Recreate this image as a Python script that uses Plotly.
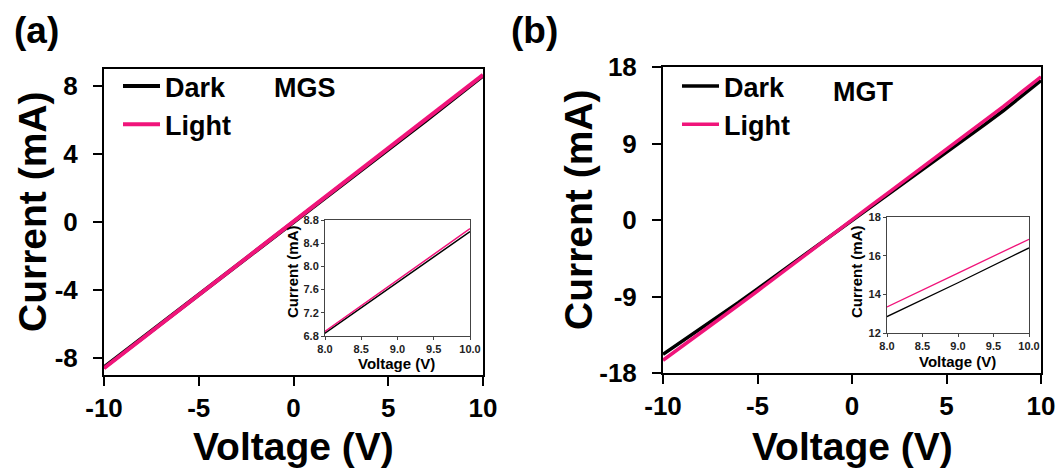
import plotly.graph_objects as go

# ---------------- data ----------------
voltage = [-10, -9, -8, -7, -6, -5, -4, -3, -2, -1, 0, 1, 2, 3, 4, 5, 6, 7, 8, 9, 10]

mgs_dark = [-8.55, -7.70, -6.85, -5.98, -5.12, -4.26, -3.40, -2.55, -1.70, -0.85, 0.0,
            0.85, 1.70, 2.55, 3.40, 4.26, 5.12, 5.98, 6.85, 7.72, 8.60]
mgs_light = [-8.60, -7.74, -6.88, -6.01, -5.15, -4.29, -3.43, -2.57, -1.72, -0.86, 0.0,
             0.86, 1.72, 2.57, 3.43, 4.29, 5.15, 6.01, 6.88, 7.76, 8.65]

mgt_dark = [-15.8, -14.3, -12.8, -11.2, -9.7, -8.1, -6.5, -4.9, -3.25, -1.6, 0.0,
            1.6, 3.2, 4.8, 6.4, 8.0, 9.6, 11.2, 12.85, 14.6, 16.4]
mgt_light = [-16.5, -14.9, -13.3, -11.65, -10.0, -8.35, -6.7, -5.0, -3.35, -1.68, 0.0,
             1.68, 3.35, 5.0, 6.7, 8.4, 10.05, 11.7, 13.35, 15.1, 16.85]

x_ticks = [-10, -5, 0, 5, 10]
mgs_y_ticks = [-8, -4, 0, 4, 8]
mgt_y_ticks = [-18, -9, 0, 9, 18]
inset_x_ticks = [8.0, 8.5, 9.0, 9.5, 10.0]
mgs_inset_y_ticks = [6.8, 7.2, 7.6, 8.0, 8.4, 8.8]
mgt_inset_y_ticks = [12, 14, 16, 18]

DARK = "#000000"
PINK = "#F0147A"
FONT = "Arial, Liberation Sans, sans-serif"

fig = go.Figure()

# ---- main traces ----
fig.add_trace(go.Scatter(x=voltage, y=mgs_dark, mode="lines", name="Dark",
                         line=dict(color=DARK, width=4), xaxis="x", yaxis="y", legend="legend"))
fig.add_trace(go.Scatter(x=voltage, y=mgs_light, mode="lines", name="Light",
                         line=dict(color=PINK, width=4), xaxis="x", yaxis="y", legend="legend"))
fig.add_trace(go.Scatter(x=voltage, y=mgt_dark, mode="lines", name="Dark",
                         line=dict(color=DARK, width=3.5), xaxis="x3", yaxis="y3", legend="legend2"))
fig.add_trace(go.Scatter(x=voltage, y=mgt_light, mode="lines", name="Light",
                         line=dict(color=PINK, width=3.5), xaxis="x3", yaxis="y3", legend="legend2"))

# ---- inset traces ----
fig.add_trace(go.Scatter(x=voltage, y=mgs_dark, mode="lines", showlegend=False,
                         line=dict(color=DARK, width=1.5), xaxis="x2", yaxis="y2"))
fig.add_trace(go.Scatter(x=voltage, y=mgs_light, mode="lines", showlegend=False,
                         line=dict(color=PINK, width=1.5), xaxis="x2", yaxis="y2"))
fig.add_trace(go.Scatter(x=voltage, y=mgt_dark, mode="lines", showlegend=False,
                         line=dict(color=DARK, width=1.3), xaxis="x4", yaxis="y4"))
fig.add_trace(go.Scatter(x=voltage, y=mgt_light, mode="lines", showlegend=False,
                         line=dict(color=PINK, width=1.3), xaxis="x4", yaxis="y4"))

W, H = 1060, 474


def px_x(v):
    return v / W


def px_y(v):
    return 1 - v / H


def labels(vals, fmt="{:g}"):
    return [fmt.format(v) for v in vals]


main_tick_font = dict(family=FONT, size=26, color="black", weight="bold")
inset_tick_font = dict(family=FONT, size=11, color="#222222", weight="bold")


def main_axis(domain, rng, ticks, anchor, standoff=0):
    return dict(domain=domain, range=rng, tickvals=ticks, ticktext=labels(ticks),
                ticks="outside", ticklen=9, ticklabelstandoff=standoff,
                tickwidth=2, tickcolor="black", showline=True, linewidth=2, linecolor="black",
                mirror=True, showgrid=False, zeroline=False, tickfont=main_tick_font,
                anchor=anchor, fixedrange=True, automargin=False)


def inset_axis(domain, rng, ticks, anchor, fmt):
    return dict(domain=domain, range=rng, tickvals=ticks, ticktext=labels(ticks, fmt),
                ticks="outside", ticklen=3,
                tickwidth=1, tickcolor="#444444", showline=True, linewidth=1, linecolor="#444444",
                mirror=True, showgrid=False, zeroline=False, tickfont=inset_tick_font,
                anchor=anchor, fixedrange=True, automargin=False)


legend_font = dict(family=FONT, size=27, weight="bold")

fig.update_layout(
    template="none",
    width=W, height=H,
    margin=dict(l=0, r=0, t=0, b=0, autoexpand=False),
    paper_bgcolor="white", plot_bgcolor="white",
    font=dict(family=FONT, color="black"),
    xaxis=main_axis([px_x(104), px_x(483)], [-10, 10], x_ticks, "y"),
    yaxis=main_axis([px_y(375), px_y(69)], [-9, 9], mgs_y_ticks, "x", 10),
    xaxis2=inset_axis([px_x(325), px_x(470)], [8, 10], inset_x_ticks, "y2", "{:.1f}"),
    yaxis2=inset_axis([px_y(336), px_y(220)], [6.8, 8.8], mgs_inset_y_ticks, "x2", "{:.1f}"),
    xaxis3=main_axis([px_x(663), px_x(1041)], [-10, 10], x_ticks, "y3"),
    yaxis3=main_axis([px_y(373), px_y(67)], [-18, 18], mgt_y_ticks, "x3", 10),
    xaxis4=inset_axis([px_x(887), px_x(1029)], [8, 10], inset_x_ticks, "y4", "{:.1f}"),
    yaxis4=inset_axis([px_y(333), px_y(217)], [12, 18], mgt_inset_y_ticks, "x4", "{:d}"),
    legend=dict(x=px_x(118), y=px_y(62), xanchor="left", yanchor="top",
                bgcolor="rgba(0,0,0,0)", font=legend_font, tracegroupgap=0, itemwidth=37),
    legend2=dict(x=px_x(677), y=px_y(62), xanchor="left", yanchor="top",
                 bgcolor="rgba(0,0,0,0)", font=legend_font, tracegroupgap=0, itemwidth=37),
)

annotations = [
    dict(text="(a)", x=px_x(36), y=px_y(30), font=dict(size=37)),
    dict(text="(b)", x=px_x(534), y=px_y(30), font=dict(size=37)),
    dict(text="MGS", x=px_x(305), y=px_y(88), font=dict(size=27)),
    dict(text="MGT", x=px_x(863), y=px_y(92), font=dict(size=27)),
    dict(text="Voltage (V)", x=px_x(293), y=px_y(446), font=dict(size=39)),
    dict(text="Voltage (V)", x=px_x(852), y=px_y(446), font=dict(size=39)),
    dict(text="Current (mA)", x=px_x(32), y=px_y(212), font=dict(size=39), textangle=-90),
    dict(text="Current (mA)", x=px_x(579), y=px_y(210), font=dict(size=39), textangle=-90),
    dict(text="Voltage (V)", x=px_x(397), y=px_y(363), font=dict(size=15)),
    dict(text="Voltage (V)", x=px_x(957), y=px_y(361), font=dict(size=15)),
    dict(text="Current (mA)", x=px_x(292), y=px_y(272), font=dict(size=15), textangle=-90),
    dict(text="Current (mA)", x=px_x(856), y=px_y(272), font=dict(size=15), textangle=-90),
]
for a in annotations:
    a.update(xref="paper", yref="paper", showarrow=False, xanchor="center", yanchor="middle")
    a["font"].update(family=FONT, color="black", weight="bold")
fig.update_layout(annotations=annotations)

fig.write_html("out.html")
